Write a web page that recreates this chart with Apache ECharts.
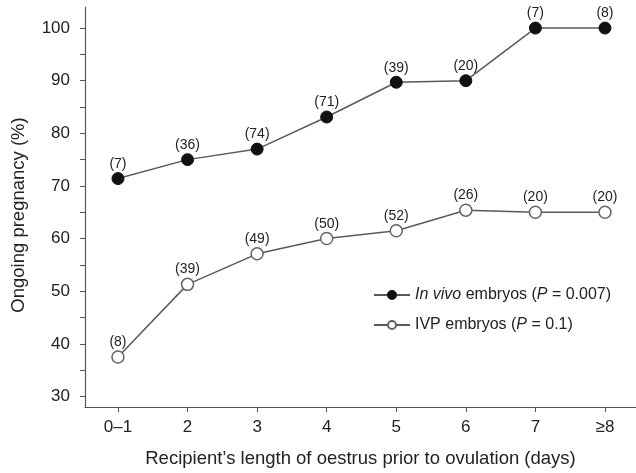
<!DOCTYPE html>
<html>
<head>
<meta charset="utf-8">
<script src="https://cdn.jsdelivr.net/npm/echarts@6/dist/echarts.min.js"></script>
<style>
  html, body { margin: 0; padding: 0; background: #fff; }
  #chart { width: 636px; height: 473px; }
</style>
</head>
<body>
<div id="chart"></div>
<script>
// categories on the x axis (length of oestrus, days)
var categories = ['0\u20131', '2', '3', '4', '5', '6', '7', '\u22658'];
// ongoing pregnancy (%)
var inVivo = [71.4, 75, 77, 83.1, 89.7, 90, 100, 100];
var ivp = [37.5, 51.3, 57.1, 60, 61.5, 65.4, 65, 65];
// number of recipients per point
var inVivoN = [7, 36, 74, 71, 39, 20, 7, 8];
var ivpN = [8, 39, 49, 50, 52, 26, 20, 20];
// y axis ticks
var yLabels = [30, 40, 50, 60, 70, 80, 90, 100];
var yTicks = [30, 35, 40, 45, 50, 55, 60, 65, 70, 75, 80, 85, 90, 95, 100];
var xTicks = [0, 1, 2, 3, 4, 5, 6, 7];

var seriesNames = ['In vivo embryos (P = 0.007)', 'IVP embryos (P = 0.1)'];

function pairs(vals) {
    return vals.map(function (v, i) { return [i, v]; });
}

var font = 'Liberation Sans, Arial, sans-serif';
var chart = echarts.init(document.getElementById('chart'), null, {renderer: 'canvas'});

var option = {
    animation: false,
    textStyle: {fontFamily: font, color: '#222'},
    grid: {left: 85, right: 0, top: 7, bottom: 65, containLabel: false},
    legend: {
        left: 368,
        top: 282,
        orient: 'vertical',
        itemWidth: 36,
        itemHeight: 10,
        itemGap: 14,
        data: seriesNames,
        formatter: function (name) {
            if (name === seriesNames[0]) return '{i|In vivo} embryos ({i|P} = 0.007)';
            return 'IVP embryos ({i|P} = 0.1)';
        },
        textStyle: {
            fontSize: 16, color: '#222', fontFamily: font,
            rich: {i: {fontStyle: 'italic', fontSize: 16, color: '#222', fontFamily: font}}
        }
    },
    xAxis: {
        type: 'value',
        min: -0.474,
        max: 7.446,
        name: 'Recipient\u2019s length of oestrus prior to ovulation (days)',
        nameLocation: 'middle',
        nameGap: 42,
        nameTextStyle: {fontSize: 18.5, color: '#222'},
        axisLine: {onZero: false, lineStyle: {color: '#555', width: 1.2}},
        axisTick: {customValues: xTicks, length: 5, lineStyle: {color: '#555'}},
        axisLabel: {
            customValues: xTicks,
            margin: 12,
            fontSize: 17,
            color: '#222',
            formatter: function (v) { return categories[Math.round(v)]; }
        },
        splitLine: {show: false}
    },
    yAxis: {
        type: 'value',
        min: 28,
        max: 104,
        name: 'Ongoing pregnancy (%)',
        nameLocation: 'middle',
        nameGap: 57,
        nameTextStyle: {fontSize: 18.5, color: '#222', padding: [0, 16, 0, 0]},
        axisLine: {show: true, onZero: false, lineStyle: {color: '#555', width: 1.2}},
        axisTick: {show: true, customValues: yTicks, length: 5, lineStyle: {color: '#555'}},
        axisLabel: {customValues: yLabels, margin: 15, fontSize: 17, color: '#222'},
        splitLine: {show: false}
    },
    series: [
        {
            name: seriesNames[0],
            type: 'line',
            data: pairs(inVivo),
            symbol: 'circle',
            symbolSize: 12,
            lineStyle: {color: '#5a5a5a', width: 1.5},
            itemStyle: {color: '#111', borderColor: '#111', borderWidth: 1},
            label: {
                show: true,
                position: 'top',
                distance: 1,
                fontSize: 14,
                color: '#222',
                formatter: function (p) { return '(' + inVivoN[p.dataIndex] + ')'; }
            }
        },
        {
            name: seriesNames[1],
            type: 'line',
            data: pairs(ivp),
            symbol: 'circle',
            symbolSize: 12,
            lineStyle: {color: '#5a5a5a', width: 1.5},
            itemStyle: {color: '#fff', borderColor: '#666', borderWidth: 1.5},
            label: {
                show: true,
                position: 'top',
                distance: 1,
                fontSize: 14,
                color: '#222',
                formatter: function (p) { return '(' + ivpN[p.dataIndex] + ')'; }
            }
        }
    ]
};

chart.setOption(option);
</script>
</body>
</html>
